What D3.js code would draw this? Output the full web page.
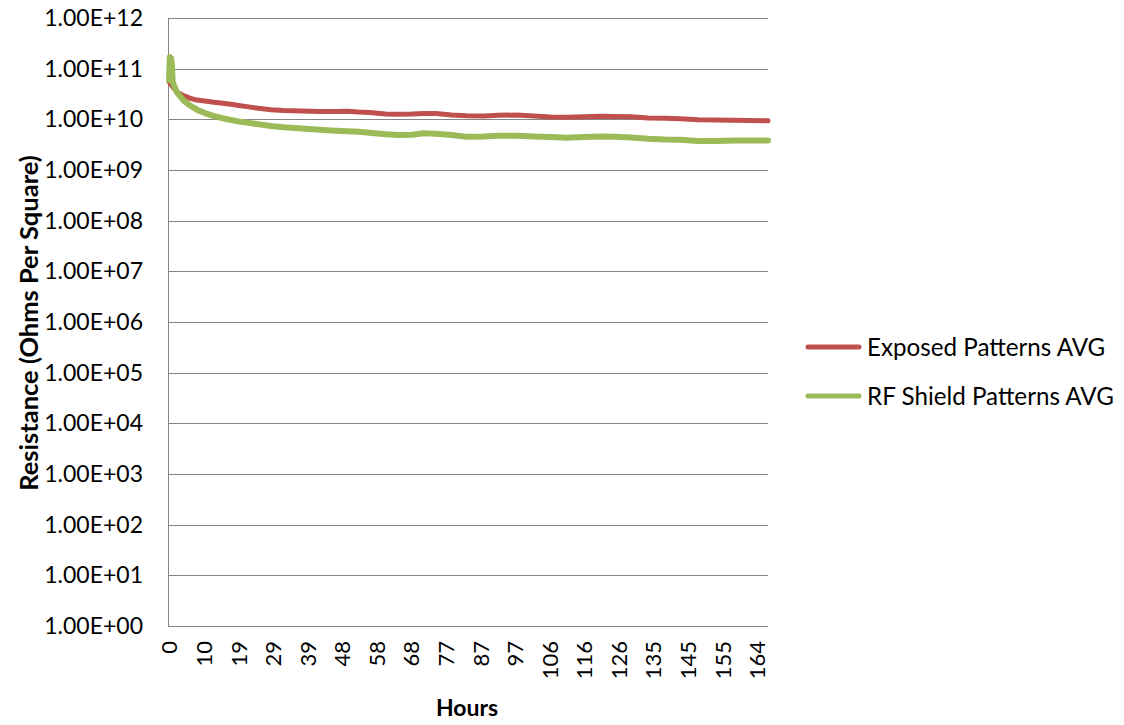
<!DOCTYPE html>
<html>
<head>
<meta charset="utf-8">
<script src="https://cdn.jsdelivr.net/npm/d3@7"></script>
<style>
  html, body { margin: 0; padding: 0; background: #fff; }
  svg { display: block; }
  text { font-family: Lato, "Open Sans", sans-serif; fill: #000; }
</style>
</head>
<body>
<svg id="chart" width="1124" height="725"></svg>
<script>
// ---------- data ----------
const hours = [0, 0.2, 0.4, 0.6, 0.8, 1.0, 1.5, 2.2, 3, 4.2, 6, 7.8, 10, 12.6, 15, 17.3, 19.5, 21.8, 25, 28.5,
  32, 37.2, 42, 46.6, 50, 53, 56, 60.6, 64, 68, 71, 74.6, 79, 83.2, 88, 92, 97.2, 102, 106.7, 111.2,
  116, 120.7, 125, 129.3, 134, 138.8, 143, 148, 153, 158, 162, 166.8, 167.5];

const exposedAvg = [5.5e10, 5.3e10, 5.0e10, 4.8e10, 4.6e10, 4.4e10, 4.0e10, 3.5e10, 3.2e10, 2.9e10, 2.6e10, 2.4e10,
  2.3e10, 2.17e10, 2.08e10, 1.98e10, 1.88e10, 1.78e10, 1.65e10, 1.55e10, 1.5e10, 1.46e10, 1.43e10, 1.42e10,
  1.44e10, 1.39e10, 1.36e10, 1.27e10, 1.26e10, 1.27e10, 1.31e10, 1.3e10, 1.22e10, 1.18e10, 1.17e10, 1.2e10,
  1.22e10, 1.17e10, 1.11e10, 1.1e10, 1.12e10, 1.15e10, 1.14e10, 1.12e10, 1.06e10, 1.05e10, 1.03e10, 9.8e9,
  9.7e9, 9.6e9, 9.5e9, 9.4e9, 9.4e9];

const rfShieldAvg = [6.0e10, 1.7e11, 1.1e11, 1.6e11, 1.2e11, 5.5e10, 4.4e10, 3.4e10, 2.9e10, 2.3e10, 1.85e10, 1.55e10,
  1.33e10, 1.16e10, 1.05e10, 9.7e9, 9.1e9, 8.6e9, 8.0e9, 7.4e9, 7.0e9, 6.6e9, 6.25e9, 5.97e9,
  5.8e9, 5.7e9, 5.45e9, 5.1e9, 4.9e9, 4.95e9, 5.3e9, 5.2e9, 4.9e9, 4.55e9, 4.6e9, 4.75e9,
  4.75e9, 4.6e9, 4.5e9, 4.35e9, 4.5e9, 4.6e9, 4.55e9, 4.4e9, 4.15e9, 4.0e9, 3.95e9, 3.75e9,
  3.75e9, 3.8e9, 3.8e9, 3.8e9, 3.8e9];

const seriesNames = ["Exposed Patterns AVG", "RF Shield Patterns AVG"];
const seriesColors = ["#C0504D", "#9BBB59"];

const xTickLabels = ["0", "10", "19", "29", "39", "48", "58", "68", "77", "87", "97", "106", "116", "126", "135", "145", "155", "164"];
const xTickStep = 9.667; // hours between category labels
const yTickValues = [1e0, 1e1, 1e2, 1e3, 1e4, 1e5, 1e6, 1e7, 1e8, 1e9, 1e10, 1e11, 1e12];

// ---------- layout ----------
const svg = d3.select("#chart");
const plot = { left: 168, right: 768, top: 18, bottom: 626 };

const x = d3.scaleLinear().domain([-0.3, 167.5]).range([plot.left, plot.right]);
const y = d3.scaleLog().domain([1, 1e12]).range([plot.bottom, plot.top]);

// gridlines + y labels
const yAxis = d3.axisLeft(y)
  .tickValues(yTickValues)
  .tickSize(-(plot.right - plot.left))
  .tickPadding(25)
  .tickFormat(d => {
    const e = Math.round(Math.log10(d));
    return "1.00E+" + (e < 10 ? "0" + e : e);
  });

const gy = svg.append("g").attr("transform", `translate(${plot.left},0)`).call(yAxis);
gy.select(".domain").remove();
gy.selectAll(".tick line").attr("stroke", "#868686").attr("stroke-width", 1).attr("shape-rendering", "crispEdges");
gy.selectAll(".tick text").attr("font-size", 23).attr("font-family", "Lato, sans-serif").attr("fill", "#000");

// left axis line
svg.append("line")
  .attr("x1", plot.left).attr("x2", plot.left)
  .attr("y1", plot.top).attr("y2", plot.bottom)
  .attr("stroke", "#868686").attr("stroke-width", 1).attr("shape-rendering", "crispEdges");

// x labels (rotated)
const xAxis = d3.axisBottom(x)
  .tickValues(xTickLabels.map((d, i) => i * xTickStep))
  .tickSize(0)
  .tickFormat((d, i) => xTickLabels[i]);
const gx = svg.append("g").attr("transform", `translate(0,${plot.bottom})`).call(xAxis);
gx.select(".domain").remove();
gx.selectAll(".tick text")
  .attr("font-size", 22).attr("font-family", "Lato, sans-serif").attr("fill", "#000")
  .attr("transform", "rotate(-90)")
  .attr("text-anchor", "end")
  .attr("x", -15).attr("y", 0).attr("dy", "0.36em");

// series lines
const line = d3.line().x((d, i) => x(hours[i])).y(d => y(d));
[exposedAvg, rfShieldAvg].forEach((vals, k) => {
  svg.append("path")
    .datum(vals)
    .attr("d", line)
    .attr("fill", "none")
    .attr("stroke", seriesColors[k])
    .attr("stroke-width", k === 0 ? 5 : 6)
    .attr("stroke-linejoin", "round")
    .attr("stroke-linecap", "round");
});

// axis titles
svg.append("text")
  .attr("transform", "translate(38,323) rotate(-90)")
  .attr("text-anchor", "middle")
  .attr("font-size", 25.5).attr("font-weight", "bold")
  .text("Resistance (Ohms Per Square)");

svg.append("text")
  .attr("x", 467).attr("y", 716)
  .attr("text-anchor", "middle")
  .attr("font-size", 23).attr("font-weight", "bold")
  .text("Hours");

// legend
const legendY = [347, 396];
seriesNames.forEach((name, k) => {
  svg.append("line")
    .attr("x1", 808).attr("x2", 859)
    .attr("y1", legendY[k]).attr("y2", legendY[k])
    .attr("stroke", seriesColors[k]).attr("stroke-width", 5)
    .attr("stroke-linecap", "round");
  svg.append("text")
    .attr("x", 867).attr("y", legendY[k]).attr("dy", "0.36em")
    .attr("font-size", 24.2)
    .text(name);
});
</script>
</body>
</html>
